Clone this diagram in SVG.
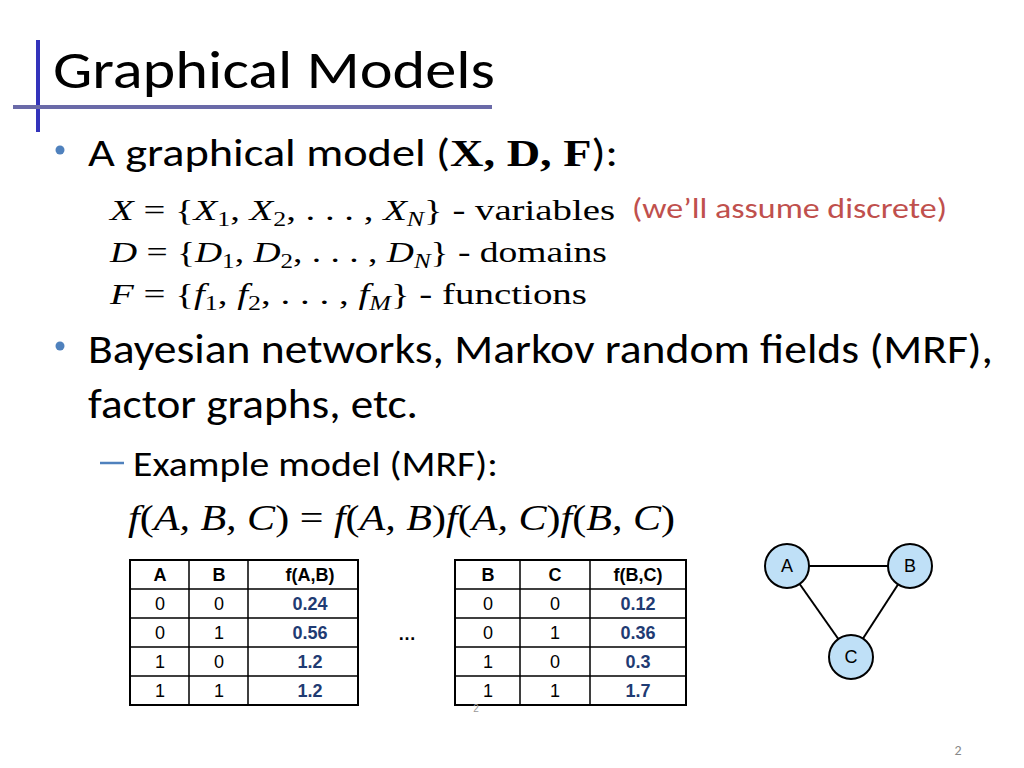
<svg xmlns="http://www.w3.org/2000/svg" width="1024" height="768" viewBox="0 0 1024 768">
<style>
.t{font-family:Carlito,Calibri,"Liberation Sans",sans-serif;fill:#000}
.m{font-family:"Liberation Serif",serif;font-size:30px;fill:#000}
.i{font-style:italic}
.s{font-size:20px}
.tb{font-family:"Liberation Sans",Arial,sans-serif;font-size:18px;text-anchor:middle}
.v{fill:#1f3b73;font-weight:bold}
.h{font-weight:bold}
.g{fill:none;stroke:#000;stroke-width:2}
.n{fill:#bfe0f7;stroke:#000;stroke-width:2}
.nl{font-family:"Liberation Sans",Arial,sans-serif;font-size:18px;text-anchor:middle}
</style>
<rect width="1024" height="768" fill="#fff"/>
<line x1="38" y1="40" x2="38" y2="132" stroke="#3333bb" stroke-width="4"/>
<line x1="13" y1="107" x2="492" y2="107" stroke="#6a6aa8" stroke-width="4"/>
<text class="t" x="53" y="88" font-size="54" textLength="442" lengthAdjust="spacingAndGlyphs">Graphical Models</text>
<circle cx="60" cy="150" r="4.5" fill="#4f81bd"/>
<text class="t" x="88" y="166" font-size="38" textLength="530" lengthAdjust="spacingAndGlyphs">A graphical model (<tspan font-family="Liberation Serif" font-weight="bold">X, D, F</tspan>):</text>
<text class="m" x="110" y="220" textLength="505" lengthAdjust="spacingAndGlyphs"><tspan class="i">X</tspan> = {<tspan class="i">X</tspan><tspan class="s" dy="6">1</tspan><tspan dy="-6">, </tspan><tspan class="i">X</tspan><tspan class="s" dy="6">2</tspan><tspan dy="-6">, . . . , </tspan><tspan class="i">X</tspan><tspan class="s i" dy="6">N</tspan><tspan dy="-6">} - variables</tspan></text>
<text class="m" x="110" y="262" textLength="497" lengthAdjust="spacingAndGlyphs"><tspan class="i">D</tspan> = {<tspan class="i">D</tspan><tspan class="s" dy="6">1</tspan><tspan dy="-6">, </tspan><tspan class="i">D</tspan><tspan class="s" dy="6">2</tspan><tspan dy="-6">, . . . , </tspan><tspan class="i">D</tspan><tspan class="s i" dy="6">N</tspan><tspan dy="-6">} - domains</tspan></text>
<text class="m" x="110" y="304" textLength="477" lengthAdjust="spacingAndGlyphs"><tspan class="i">F</tspan> = {<tspan class="i">f</tspan><tspan class="s" dy="6">1</tspan><tspan dy="-6">, </tspan><tspan class="i">f</tspan><tspan class="s" dy="6">2</tspan><tspan dy="-6">, . . . , </tspan><tspan class="i">f</tspan><tspan class="s i" dy="6">M</tspan><tspan dy="-6">} - functions</tspan></text>
<text class="t" x="632" y="218" font-size="28" style="fill:#c0504d" textLength="315" lengthAdjust="spacingAndGlyphs">(we’ll assume discrete)</text>
<circle cx="60" cy="346" r="4.5" fill="#4f81bd"/>
<text class="t" x="88" y="363" font-size="40" textLength="905" lengthAdjust="spacingAndGlyphs">Bayesian networks, Markov random fields (MRF),</text>
<text class="t" x="88" y="418" font-size="40" textLength="330" lengthAdjust="spacingAndGlyphs">factor graphs, etc.</text>
<line x1="100" y1="463" x2="124" y2="463" stroke="#4f81bd" stroke-width="2.5"/>
<text class="t" x="133" y="476" font-size="34" textLength="365" lengthAdjust="spacingAndGlyphs">Example model (MRF):</text>
<text class="m" x="128" y="530" style="font-size:36px" textLength="547" lengthAdjust="spacingAndGlyphs"><tspan class="i">f</tspan>(<tspan class="i">A, B, C</tspan>) = <tspan class="i">f</tspan>(<tspan class="i">A, B</tspan>)<tspan class="i">f</tspan>(<tspan class="i">A, C</tspan>)<tspan class="i">f</tspan>(<tspan class="i">B, C</tspan>)</text>
<g id="table1" fill="none" stroke="#000" stroke-width="1.5">
<rect x="130" y="560" width="228" height="145" stroke-width="2"/>
<path d="M130 589H358M130 618H358M130 647H358M130 676H358M189 560V705M248 560V705"/>
</g>
<g id="table1text" class="tb">
<text x="160" y="581" class="h">A</text><text x="219" y="581" class="h">B</text><text x="310" y="581" class="h">f(A,B)</text>
<text x="160" y="610">0</text><text x="219" y="610">0</text><text x="310" y="610" class="v">0.24</text>
<text x="160" y="639">0</text><text x="219" y="639">1</text><text x="310" y="639" class="v">0.56</text>
<text x="160" y="668">1</text><text x="219" y="668">0</text><text x="310" y="668" class="v">1.2</text>
<text x="160" y="697">1</text><text x="219" y="697">1</text><text x="310" y="697" class="v">1.2</text>
</g>
<text x="407" y="640" class="tb h">…</text>
<g id="table2" fill="none" stroke="#000" stroke-width="1.5">
<rect x="455" y="560" width="231" height="145" stroke-width="2"/>
<path d="M455 589H686M455 618H686M455 647H686M455 676H686M520 560V705M590 560V705"/>
</g>
<g id="table2text" class="tb">
<text x="488" y="581" class="h">B</text><text x="555" y="581" class="h">C</text><text x="638" y="581" class="h">f(B,C)</text>
<text x="488" y="610">0</text><text x="555" y="610">0</text><text x="638" y="610" class="v">0.12</text>
<text x="488" y="639">0</text><text x="555" y="639">1</text><text x="638" y="639" class="v">0.36</text>
<text x="488" y="668">1</text><text x="555" y="668">0</text><text x="638" y="668" class="v">0.3</text>
<text x="488" y="697">1</text><text x="555" y="697">1</text><text x="638" y="697" class="v">1.7</text>
</g>
<text x="476" y="712" font-family="Liberation Sans" font-size="10" fill="#999" text-anchor="middle">2</text>
<g id="edges">
<line class="g" x1="787" y1="566" x2="910" y2="566"/>
<line class="g" x1="787" y1="566" x2="851" y2="657"/>
<line class="g" x1="910" y1="566" x2="851" y2="657"/>
</g>
<g id="nodeA"><circle class="n" cx="787" cy="566" r="22"/><text class="nl" x="787" y="572">A</text></g>
<g id="nodeB"><circle class="n" cx="910" cy="566" r="22"/><text class="nl" x="910" y="572">B</text></g>
<g id="nodeC"><circle class="n" cx="851" cy="657" r="22"/><text class="nl" x="851" y="663">C</text></g>
<text x="958" y="755" font-family="Carlito,Liberation Sans,sans-serif" font-size="14" fill="#888" text-anchor="middle">2</text>
</svg>
